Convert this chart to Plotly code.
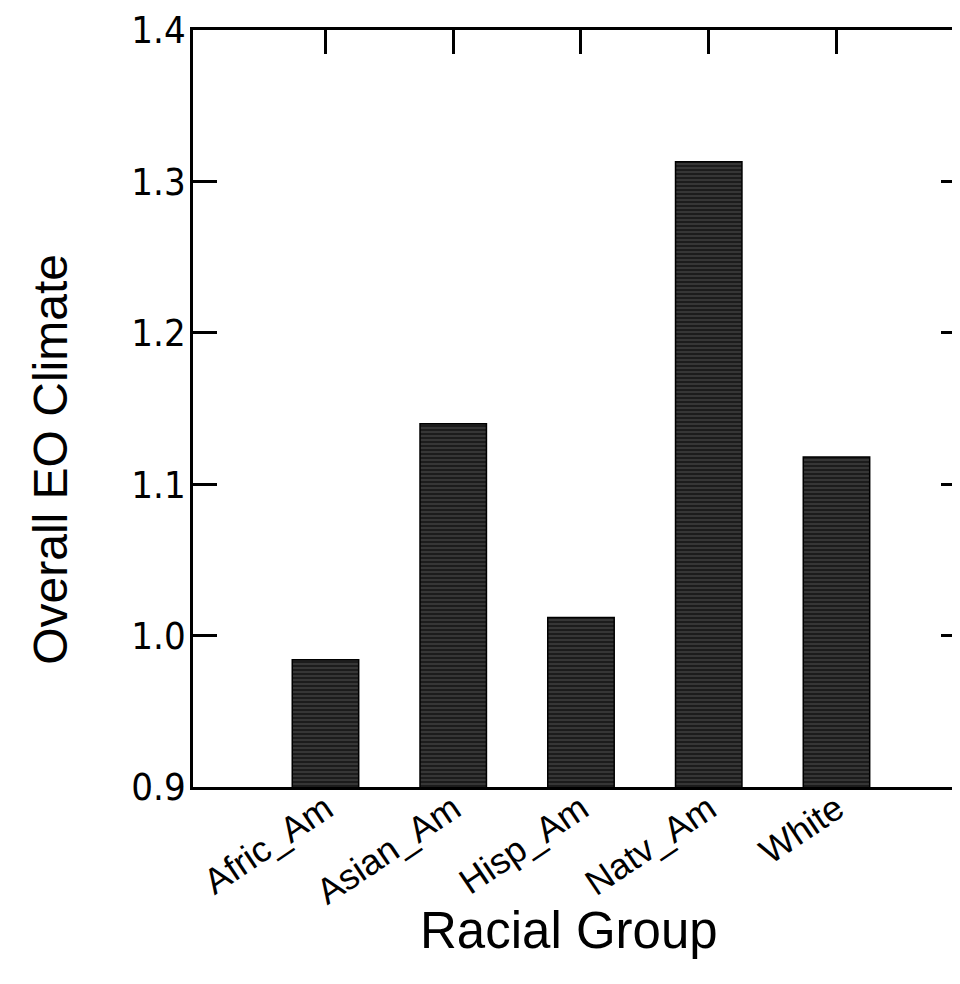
import plotly.graph_objects as go

categories = ["Afric_Am", "Asian_Am", "Hisp_Am", "Natv_Am", "White"]
values = [0.984, 1.140, 1.012, 1.313, 1.118]
y_ticks = [0.9, 1.0, 1.1, 1.2, 1.3, 1.4]
y_tick_labels = ["0.9", "1.0", "1.1", "1.2", "1.3", "1.4"]

FONT = "Liberation Sans, Arial, sans-serif"
NARROW = "Liberation Sans Narrow, Arial Narrow, DejaVu Sans Condensed, Liberation Sans, sans-serif"

fig = go.Figure()
fig.add_trace(go.Bar(
    x=categories, y=values, base=0,
    width=0.52,
    marker=dict(color="#1c1c1c", line=dict(color="#000000", width=1.5),
                pattern=dict(shape="-", fgcolor="#a0a0a0", bgcolor="#1c1c1c",
                             size=4, solidity=0.2)),
    showlegend=False, hoverinfo="skip",
))
# invisible trace to carry the top (mirror) category ticks
fig.add_trace(go.Scatter(
    x=categories, y=values, xaxis="x2", mode="markers",
    marker=dict(opacity=0), showlegend=False, hoverinfo="skip",
))

XRANGE = [-1.037, 5.006]

fig.update_layout(
    width=960, height=968,
    margin=dict(l=185, r=0, t=17, b=189),
    paper_bgcolor="white", plot_bgcolor="white",
    font=dict(family=FONT, color="black"),
    xaxis=dict(
        type="category", range=XRANGE,
        showline=True, linecolor="black", linewidth=2.5, mirror=True,
        ticks="", tickangle=-34, showgrid=False,
        tickfont=dict(size=36, family=FONT),
        ticklabelstandoff=-16,
    ),
    xaxis2=dict(
        type="category", range=XRANGE, overlaying="x", side="top",
        ticks="inside", ticklen=24, tickwidth=2.5, tickcolor="black",
        showticklabels=False, showline=False, showgrid=False,
    ),
    yaxis=dict(
        range=[0.9, 1.4], tickvals=y_ticks, ticktext=y_tick_labels,
        showline=True, linecolor="black", linewidth=2.5, mirror="ticks",
        ticks="inside", ticklen=24, tickwidth=2.5, tickcolor="black",
        showgrid=False, zeroline=False,
        tickfont=dict(size=38, family=NARROW),
        ticklabelstandoff=-3, ticklabeloverflow="allow",
    ),
    annotations=[
        dict(text="Overall EO Climate", textangle=-90, showarrow=False,
             xref="paper", yref="paper", x=-0.1845, y=0.433,
             xanchor="center", yanchor="middle",
             font=dict(size=48, family=FONT, color="black")),
        dict(text="Racial Group", showarrow=False,
             xref="paper", yref="paper", x=0.487, y=-0.190,
             xanchor="center", yanchor="middle",
             font=dict(size=51, family=FONT, color="black")),
    ],
)

fig.write_html("out.html")
